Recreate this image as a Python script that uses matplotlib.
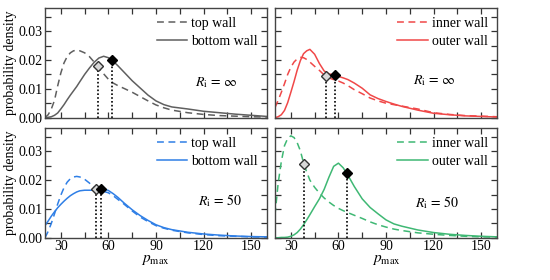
import numpy as np
import matplotlib
matplotlib.use("Agg")
import matplotlib.pyplot as plt
from matplotlib.ticker import MultipleLocator, FormatStrFormatter

plt.rcParams['font.family'] = ['Liberation Serif', 'DejaVu Serif']
plt.rcParams['mathtext.fontset'] = 'stix'

# ---- data ----
p_max = [20, 22, 24, 26, 28, 30, 32, 34, 36, 38, 40, 42, 45, 48, 51, 54, 57, 60,
         63, 66, 70, 75, 80, 85, 90, 95, 100, 110, 120, 130, 140, 150, 160]

# R_i = inf, top/bottom wall (gray)
gray_top = [0.0000, 0.0010, 0.0030, 0.0060, 0.0110, 0.0155, 0.0190, 0.0212, 0.0225, 0.0232,
            0.0234, 0.0232, 0.0225, 0.0212, 0.0193, 0.0172, 0.0152, 0.0133, 0.0120, 0.0111,
            0.0101, 0.0088, 0.0073, 0.0058, 0.0044, 0.0034, 0.0026, 0.0017, 0.0011, 0.0007,
            0.0005, 0.0003, 0.0002]
gray_bottom = [0.0000, 0.0001, 0.0003, 0.0008, 0.0016, 0.0030, 0.0045, 0.0062, 0.0078, 0.0093,
               0.0108, 0.0125, 0.0150, 0.0172, 0.0192, 0.0207, 0.0213, 0.0208, 0.0196, 0.0180,
               0.0157, 0.0128, 0.0103, 0.0078, 0.0058, 0.0045, 0.0037, 0.0030, 0.0022, 0.0017,
               0.0012, 0.0008, 0.0004]
# R_i = inf, inner/outer wall (red)
red_inner = [0.0035, 0.0060, 0.0088, 0.0118, 0.0150, 0.0175, 0.0193, 0.0204, 0.0209, 0.0208,
             0.0202, 0.0193, 0.0178, 0.0164, 0.0148, 0.0138, 0.0132, 0.0127, 0.0120, 0.0111,
             0.0097, 0.0083, 0.0068, 0.0058, 0.0050, 0.0045, 0.0040, 0.0030, 0.0017, 0.0011,
             0.0007, 0.0005, 0.0003]
red_outer = [0.0000, 0.0003, 0.0010, 0.0025, 0.0052, 0.0088, 0.0125, 0.0165, 0.0198, 0.0222,
             0.0232, 0.0237, 0.0220, 0.0188, 0.0162, 0.0152, 0.0148, 0.0143, 0.0138, 0.0132,
             0.0120, 0.0102, 0.0079, 0.0066, 0.0056, 0.0047, 0.0039, 0.0026, 0.0015, 0.0010,
             0.0006, 0.0004, 0.0002]
# R_i = 50, top/bottom wall (blue)
blue_top = [0.0000, 0.0022, 0.0050, 0.0083, 0.0117, 0.0148, 0.0174, 0.0193, 0.0205, 0.0211,
            0.0213, 0.0211, 0.0203, 0.0190, 0.0174, 0.0165, 0.0161, 0.0156, 0.0146, 0.0133,
            0.0116, 0.0093, 0.0072, 0.0056, 0.0042, 0.0033, 0.0026, 0.0017, 0.0011, 0.0007,
            0.0005, 0.0003, 0.0002]
blue_bottom = [0.0042, 0.0058, 0.0075, 0.0090, 0.0104, 0.0116, 0.0127, 0.0137, 0.0146, 0.0153,
               0.0159, 0.0163, 0.0165, 0.0165, 0.0165, 0.0169, 0.0170, 0.0164, 0.0153, 0.0140,
               0.0120, 0.0097, 0.0077, 0.0060, 0.0045, 0.0035, 0.0028, 0.0019, 0.0013, 0.0009,
               0.0006, 0.0004, 0.0003]
# R_i = 50, inner/outer wall (green)
green_inner = [0.0080, 0.0190, 0.0265, 0.0320, 0.0345, 0.0354, 0.0348, 0.0330, 0.0302, 0.0260,
               0.0228, 0.0200, 0.0175, 0.0155, 0.0138, 0.0124, 0.0112, 0.0102, 0.0094, 0.0087,
               0.0078, 0.0067, 0.0055, 0.0045, 0.0037, 0.0030, 0.0025, 0.0017, 0.0012, 0.0008,
               0.0005, 0.0003, 0.0002]
green_outer = [0.0000, 0.0000, 0.0001, 0.0001, 0.0002, 0.0005, 0.0010, 0.0018, 0.0030, 0.0045,
               0.0062, 0.0080, 0.0108, 0.0135, 0.0168, 0.0210, 0.0248, 0.0259, 0.0243, 0.0217,
               0.0178, 0.0135, 0.0105, 0.0083, 0.0062, 0.0048, 0.0040, 0.0027, 0.0018, 0.0012,
               0.0008, 0.0005, 0.0003]

# mean positions (markers): [dashed-curve mean, solid-curve mean]
means_gray = [53.2, 62.0]
means_red = [52.0, 57.8]
means_blue = [52.2, 55.1]
means_green = [38.3, 65.2]

labels_tb = ["top wall", "bottom wall"]
labels_io = ["inner wall", "outer wall"]
radius_labels = [r"$R_{\rm i}\,=\,\infty$", r"$R_{\rm i}\,=\,\infty$",
                 r"$R_{\rm i}\,=\,50$", r"$R_{\rm i}\,=\,50$"]

panels = [
    (gray_top, gray_bottom, means_gray, labels_tb, '#5f5f5f'),
    (red_inner, red_outer, means_red, labels_io, '#f04848'),
    (blue_top, blue_bottom, means_blue, labels_tb, '#2f7fe6'),
    (green_inner, green_outer, means_green, labels_io, '#3fb874'),
]

fig = plt.figure(figsize=(5.5, 2.8), dpi=100)
W, H = 0.4036, 0.3907
positions = [(0.0818, 0.580), (0.5, 0.580), (0.0818, 0.151), (0.5, 0.151)]
text_pos = [(0.77, 0.32), (0.72, 0.34), (0.79, 0.34), (0.73, 0.32)]

x = np.array(p_max)
for i, (dashed, solid, means, labs, col) in enumerate(panels):
    ax = fig.add_axes([positions[i][0], positions[i][1], W, H])
    d = np.array(dashed)
    s = np.array(solid)
    ax.plot(x, d, color=col, lw=1.1, ls=(0, (4.5, 3)), label=labs[0])
    ax.plot(x, s, color=col, lw=1.1, ls='-', label=labs[1])
    yd = np.interp(means[0], x, d)
    ys = np.interp(means[1], x, s)
    ax.plot([means[0], means[0]], [0, yd], color='black', ls=(0, (1, 1.3)), lw=1.2)
    ax.plot([means[1], means[1]], [0, ys], color='black', ls=(0, (1, 1.3)), lw=1.2)
    ax.plot([means[0]], [yd], marker='D', ms=4.8, mfc='#d8d8d8', mec='#333333', mew=1.0)
    ax.plot([means[1]], [ys], marker='D', ms=4.8, mfc='black', mec='black')

    ax.set_xlim(20, 160)
    ax.set_ylim(0, 0.038)
    ax.xaxis.set_major_locator(MultipleLocator(30))
    ax.xaxis.set_minor_locator(MultipleLocator(15))
    ax.yaxis.set_major_locator(MultipleLocator(0.01))
    ax.yaxis.set_minor_locator(MultipleLocator(0.005))
    ax.tick_params(which='both', direction='in', top=True, right=True, length=4,
                   width=0.9, color='#333333', labelsize=10, pad=2)
    for sp in ax.spines.values():
        sp.set_color('#444444')
        sp.set_linewidth(1.0)

    if i in (0, 2):
        ax.yaxis.set_major_formatter(FormatStrFormatter('%.2f'))
        ax.set_ylabel("probability density", fontsize=10, labelpad=1)
    else:
        ax.tick_params(labelleft=False)
    if i in (2, 3):
        ax.set_xlabel(r"$p_{\rm max}$", fontsize=11, labelpad=0)
    else:
        ax.tick_params(labelbottom=False)

    ax.legend(loc='upper right', frameon=False, fontsize=10, handlelength=2.2,
              handletextpad=0.3, labelspacing=0.35, borderaxespad=0.45, borderpad=0.2)
    ax.text(text_pos[i][0], text_pos[i][1], radius_labels[i], transform=ax.transAxes,
            ha='center', va='center', fontsize=10)

fig.savefig("out.png", dpi=100)
